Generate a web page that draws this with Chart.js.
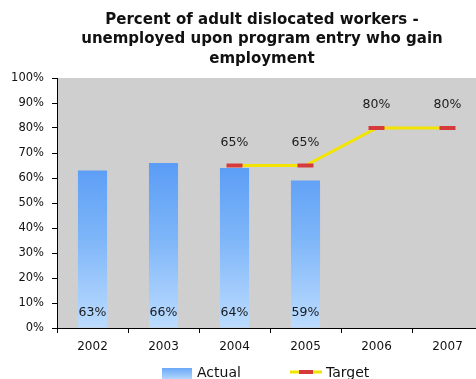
<!DOCTYPE html>
<html>
<head>
<meta charset="utf-8">
<script src="https://cdn.jsdelivr.net/npm/chart.js@4.4.1/dist/chart.umd.min.js"></script>
<style>
  html, body { margin: 0; padding: 0; background: #ffffff; overflow: hidden; }
  #wrap { position: relative; width: 476px; height: 379px; overflow: hidden; }
  #chart { display: block; }
</style>
</head>
<body>
<div id="wrap"><canvas id="chart" width="484" height="379"></canvas></div>
<script>
// Program years and results
const years = ['2002', '2003', '2004', '2005', '2006', '2007'];
const actualValues = [63, 66, 64, 59, null, null];
const targetValues = [null, null, 65, 65, 80, 80];
const titleLines = [
  'Percent of adult dislocated workers -',
  'unemployed upon program entry who gain',
  'employment'
];
const yTicks = [0, 10, 20, 30, 40, 50, 60, 70, 80, 90, 100];

const FONT = '"DejaVu Sans", Verdana, sans-serif';

// Gray plot background
const plotBackground = {
  id: 'plotBackground',
  beforeDraw(chart) {
    const { ctx, chartArea: a } = chart;
    ctx.save();
    ctx.fillStyle = '#cfcfcf';
    ctx.fillRect(a.left, a.top, a.right - a.left, a.bottom - a.top);
    ctx.restore();
  }
};

// Title, value labels and legend
const annotations = {
  id: 'annotations',
  afterDraw(chart) {
    const { ctx } = chart;
    ctx.save();
    // title
    ctx.fillStyle = '#111111';
    ctx.font = 'bold 15px ' + FONT;
    ctx.textAlign = 'center';
    ctx.textBaseline = 'middle';
    titleLines.forEach((t, i) => ctx.fillText(t, 262, 20 + i * 19.5));

    // value labels
    ctx.font = '12.5px ' + FONT;
    ctx.fillStyle = '#1a1a1a';
    const barMeta = chart.getDatasetMeta(0);
    barMeta.data.forEach((el, i) => {
      if (actualValues[i] == null) return;
      ctx.fillText(actualValues[i] + '%', el.x, el.base - 15);
    });
    const lineMeta = chart.getDatasetMeta(1);
    lineMeta.data.forEach((el, i) => {
      if (targetValues[i] == null) return;
      ctx.fillText(targetValues[i] + '%', el.x, el.y - 23);
    });

    // legend
    const ly = 372;
    const g = ctx.createLinearGradient(0, ly - 6, 0, ly + 8);
    g.addColorStop(0, '#5c9ff5');
    g.addColorStop(1, '#b9dbff');
    ctx.fillStyle = g;
    ctx.fillRect(162, ly - 4, 30, 14);
    ctx.font = '14px ' + FONT;
    ctx.fillStyle = '#111111';
    ctx.textAlign = 'left';
    ctx.fillText(chart.data.datasets[0].label, 197, ly + 1);
    ctx.strokeStyle = '#f2e400';
    ctx.lineWidth = 3;
    ctx.beginPath();
    ctx.moveTo(290, ly);
    ctx.lineTo(322, ly);
    ctx.stroke();
    ctx.strokeStyle = '#d63a3a';
    ctx.lineWidth = 4;
    ctx.beginPath();
    ctx.moveTo(299, ly);
    ctx.lineTo(313, ly);
    ctx.stroke();
    ctx.fillStyle = '#111111';
    ctx.fillText(chart.data.datasets[1].label, 326, ly + 1);
    ctx.restore();
  }
};

function barGradient(context) {
  const chart = context.chart;
  const a = chart.chartArea;
  if (!a) return '#7ab4f8';
  const y = chart.scales.y;
  const g = chart.ctx.createLinearGradient(0, y.getPixelForValue(66), 0, a.bottom);
  g.addColorStop(0, '#5a9cf6');
  g.addColorStop(0.45, '#7db5f8');
  g.addColorStop(1, '#bcdcff');
  return g;
}

new Chart(document.getElementById('chart'), {
  type: 'bar',
  data: {
    labels: years,
    datasets: [
      {
        type: 'bar',
        label: 'Actual',
        data: actualValues,
        backgroundColor: barGradient,
        borderWidth: 0,
        barPercentage: 0.41,
        categoryPercentage: 1,
        order: 1
      },
      {
        type: 'line',
        label: 'Target',
        data: targetValues,
        borderColor: '#f2e400',
        borderWidth: 3,
        pointStyle: 'line',
        pointRadius: 8,
        pointBorderWidth: 4,
        pointBorderColor: '#d63a3a',
        pointBackgroundColor: '#d63a3a',
        tension: 0,
        spanGaps: false,
        order: 0
      }
    ]
  },
  options: {
    responsive: false,
    maintainAspectRatio: false,
    animation: false,
    devicePixelRatio: 1,
    layout: { autoPadding: false, padding: { top: 78, bottom: 21, left: 0, right: 1 } },
    plugins: {
      legend: { display: false },
      title: { display: false },
      tooltip: { enabled: false }
    },
    scales: {
      x: {
        offset: true,
        grid: {
          offset: true,
          drawOnChartArea: false,
          drawTicks: true,
          tickLength: 5,
          color: '#000000'
        },
        border: { color: '#000000', width: 1 },
        ticks: {
          font: { family: FONT, size: 12 },
          color: '#111111',
          padding: 7
        },
        afterFit(scale) { scale.height = 30; }
      },
      y: {
        min: 0,
        max: 100,
        afterBuildTicks(scale) { scale.ticks = yTicks.map(v => ({ value: v })); },
        grid: {
          drawOnChartArea: false,
          drawTicks: true,
          tickLength: 5,
          color: '#000000'
        },
        border: { color: '#000000', width: 1 },
        ticks: {
          font: { family: FONT, size: 11.5 },
          color: '#111111',
          padding: 8,
          callback: v => v + '%'
        },
        afterFit(scale) { scale.width = 57; }
      }
    }
  },
  plugins: [plotBackground, annotations]
});
</script>
</body>
</html>
